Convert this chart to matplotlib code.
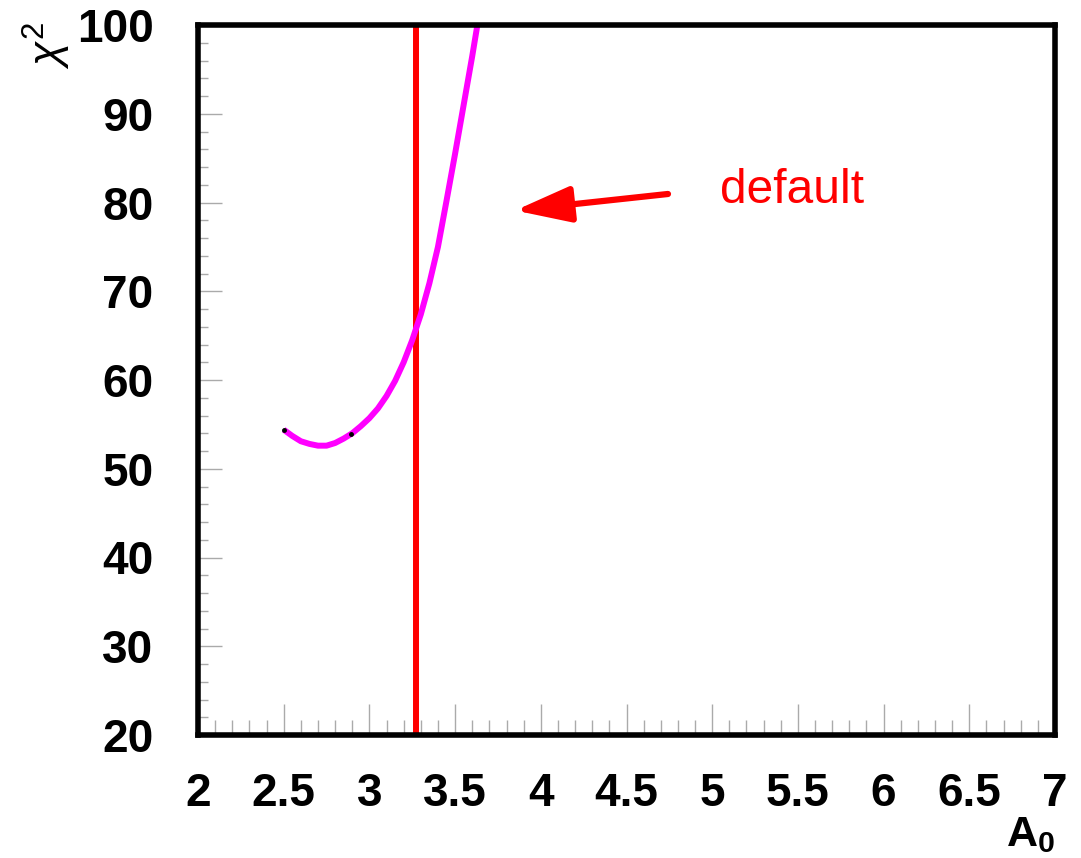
import numpy as np
import matplotlib.pyplot as plt
from matplotlib.ticker import MultipleLocator, FormatStrFormatter

plt.rcParams['font.family'] = ['Liberation Sans', 'DejaVu Sans']
plt.rcParams['mathtext.fontset'] = 'custom'
plt.rcParams['mathtext.rm'] = 'Liberation Sans'
plt.rcParams['mathtext.it'] = 'Liberation Sans:italic'
plt.rcParams['mathtext.bf'] = 'Liberation Sans:bold'

# chi2 scan versus A0
a0 = [2.50, 2.55, 2.60, 2.65, 2.70, 2.75, 2.80, 2.85, 2.90, 2.95, 3.00, 3.05,
      3.10, 3.15, 3.20, 3.25, 3.30, 3.35, 3.40, 3.45, 3.50, 3.55, 3.60, 3.63]
chi2 = [54.4, 53.7, 53.1, 52.8, 52.6, 52.6, 52.9, 53.4, 54.0, 54.8, 55.7, 56.8,
        58.2, 59.9, 62.0, 64.5, 67.4, 70.9, 75.0, 80.2, 85.5, 91.0, 96.5, 100.0]
# the two small black markers on the curve
dot_x = [2.50, 2.89]
dot_y = [54.4, 53.9]
# default value of A0
a0_default = 3.27

fig = plt.figure(figsize=(10.81, 8.58), dpi=100)
ax = fig.add_axes([198 / 1081, 123 / 858, 857 / 1081, 710 / 858])

ax.plot(a0, chi2, color="#ff00ff", lw=4.3, solid_capstyle="butt", zorder=3)
ax.plot(dot_x, dot_y, "o", color="black", ms=2.5, zorder=4)
ax.axvline(a0_default, color="red", lw=4.3, zorder=2)

# arrow + label
ax.annotate("", xy=(3.85, 79.1), xytext=(4.742, 80.96),
            arrowprops=dict(arrowstyle="-|>,head_length=1.7,head_width=0.55",
                            color="red", lw=4.5, shrinkA=0, shrinkB=0,
                            mutation_scale=20))
ax.text(5.045, 79.9, "default", color="red", fontsize=34.5, va="baseline", ha="left")

ax.set_xlim(2, 7)
ax.set_ylim(20, 100)

ax.xaxis.set_major_locator(MultipleLocator(0.5))
ax.xaxis.set_minor_locator(MultipleLocator(0.1))
ax.yaxis.set_major_locator(MultipleLocator(10))
ax.yaxis.set_minor_locator(MultipleLocator(2))
ax.xaxis.set_major_formatter(FormatStrFormatter("%g"))

ax.tick_params(axis="x", which="major", direction="in", length=22.5, width=1,
               color="#aaaaaa", pad=27)
ax.tick_params(axis="x", which="minor", direction="in", length=11, width=1,
               color="#aaaaaa")
ax.tick_params(axis="y", which="major", direction="in", length=17, width=1,
               color="#aaaaaa", pad=32)
ax.tick_params(axis="y", which="minor", direction="in", length=7.5, width=1,
               color="#aaaaaa")
for lab in ax.get_xticklabels() + ax.get_yticklabels():
    lab.set_fontsize(33)
    lab.set_fontweight("bold")

for sp in ax.spines.values():
    sp.set_linewidth(4)
    sp.set_zorder(5)

fig.text(1055 / 1081, 1 - 846 / 858, r"$\mathbf{A}_{\mathbf{0}}$", fontsize=31,
         ha="right", va="baseline")
fig.text(47 / 1081, 1 - 45 / 858, r"$\chi^{2}$", fontsize=32, rotation=90,
         ha="center", va="center")

fig.savefig("out.png", dpi=100)
